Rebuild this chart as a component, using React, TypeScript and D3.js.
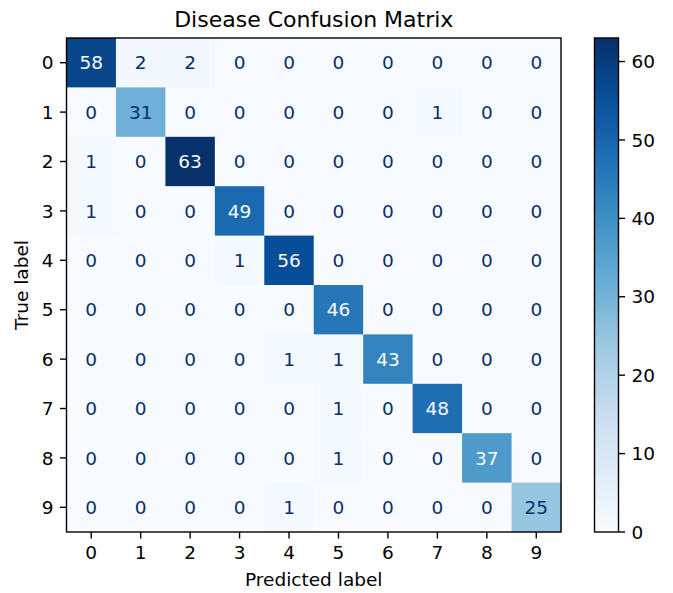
import React from "react";
import * as d3 from "d3";

const labels = ["0", "1", "2", "3", "4", "5", "6", "7", "8", "9"];
const matrix: number[][] = [
  [58, 2, 2, 0, 0, 0, 0, 0, 0, 0],
  [0, 31, 0, 0, 0, 0, 0, 1, 0, 0],
  [1, 0, 63, 0, 0, 0, 0, 0, 0, 0],
  [1, 0, 0, 49, 0, 0, 0, 0, 0, 0],
  [0, 0, 0, 1, 56, 0, 0, 0, 0, 0],
  [0, 0, 0, 0, 0, 46, 0, 0, 0, 0],
  [0, 0, 0, 0, 1, 1, 43, 0, 0, 0],
  [0, 0, 0, 0, 0, 1, 0, 48, 0, 0],
  [0, 0, 0, 0, 0, 1, 0, 0, 37, 0],
  [0, 0, 0, 0, 1, 0, 0, 0, 0, 25],
];
const colorbarTicks = [0, 10, 20, 30, 40, 50, 60];
const bluesStops = ["#f7fbff", "#deebf7", "#c6dbef", "#9ecae1", "#6baed6", "#4292c6", "#2171b5", "#08519c", "#08306b"];

export default function App() {
  const W = 673, H = 593;
  const left = 66.5, right = 561, top = 38, bottom = 532;
  const font = "DejaVu Sans, sans-serif";
  const fs = 18.5;
  const x = d3.scaleBand<string>().domain(labels).range([left, right]);
  const y = d3.scaleBand<string>().domain(labels).range([top, bottom]);
  const flat = matrix.flat();
  const vmin = d3.min(flat)!, vmax = d3.max(flat)!;
  const interp = d3.piecewise(d3.interpolateRgb, bluesStops);
  const color = d3.scaleSequential(interp).domain([vmin, vmax]);
  const thresh = (vmin + vmax) / 2;
  const cbL = 594.5, cbR = 618.5;
  const cy = d3.scaleLinear().domain([vmin, vmax]).range([bottom, top]);
  const tickLen = 6.5;
  const pad = 6.5;
  const lw = 1.4;
  const gradStops = d3.range(0, 1.0001, 0.05);

  return (
    <svg width={W} height={H} style={{ position: "absolute", left: 0, top: 0, background: "#fff" }}>
      <defs>
        <linearGradient id="cb" x1="0" y1="1" x2="0" y2="0">
          {gradStops.map((t) => (
            <stop key={t} offset={t} stopColor={interp(t)} />
          ))}
        </linearGradient>
      </defs>
      <text x={(left + right) / 2} y={26.5} textAnchor="middle" fontFamily={font} fontSize={22} fill="#000">
        Disease Confusion Matrix
      </text>
      {matrix.map((row, i) =>
        row.map((v, j) => (
          <rect
            key={`${i}-${j}`}
            x={x(labels[j])!}
            y={y(labels[i])!}
            width={x.bandwidth() + 0.5}
            height={y.bandwidth() + 0.5}
            fill={color(v)}
          />
        ))
      )}
      {matrix.map((row, i) =>
        row.map((v, j) => (
          <text
            key={`t${i}-${j}`}
            x={x(labels[j])! + x.bandwidth() / 2}
            y={y(labels[i])! + y.bandwidth() / 2}
            dy="0.36em"
            textAnchor="middle"
            fontFamily={font}
            fontSize={fs}
            fill={v > thresh ? bluesStops[0] : bluesStops[8]}
          >
            {v}
          </text>
        ))
      )}
      <rect x={left} y={top} width={right - left} height={bottom - top} fill="none" stroke="#000" strokeWidth={lw} />
      {labels.map((l) => {
        const cx = x(l)! + x.bandwidth() / 2;
        return (
          <g key={`x${l}`}>
            <line x1={cx} x2={cx} y1={bottom} y2={bottom + tickLen} stroke="#000" strokeWidth={lw} />
            <text x={cx} y={bottom + tickLen + pad} dy="0.76em" textAnchor="middle" fontFamily={font} fontSize={fs} fill="#000">
              {l}
            </text>
          </g>
        );
      })}
      {labels.map((l) => {
        const cyy = y(l)! + y.bandwidth() / 2;
        return (
          <g key={`y${l}`}>
            <line x1={left - tickLen} x2={left} y1={cyy} y2={cyy} stroke="#000" strokeWidth={lw} />
            <text x={left - tickLen - pad} y={cyy} dy="0.36em" textAnchor="end" fontFamily={font} fontSize={fs} fill="#000">
              {l}
            </text>
          </g>
        );
      })}
      <text x={(left + right) / 2} y={586} textAnchor="middle" fontFamily={font} fontSize={fs} fill="#000">
        Predicted label
      </text>
      <text
        transform={`translate(28.3,${(top + bottom) / 2}) rotate(-90)`}
        textAnchor="middle"
        fontFamily={font}
        fontSize={fs}
        fill="#000"
      >
        True label
      </text>
      <rect x={cbL} y={top} width={cbR - cbL} height={bottom - top} fill="url(#cb)" stroke="#000" strokeWidth={lw} />
      {colorbarTicks.map((t) => (
        <g key={`c${t}`}>
          <line x1={cbR} x2={cbR + tickLen} y1={cy(t)} y2={cy(t)} stroke="#000" strokeWidth={lw} />
          <text x={cbR + tickLen + pad} y={cy(t)} dy="0.36em" textAnchor="start" fontFamily={font} fontSize={fs} fill="#000">
            {t}
          </text>
        </g>
      ))}
    </svg>
  );
}
